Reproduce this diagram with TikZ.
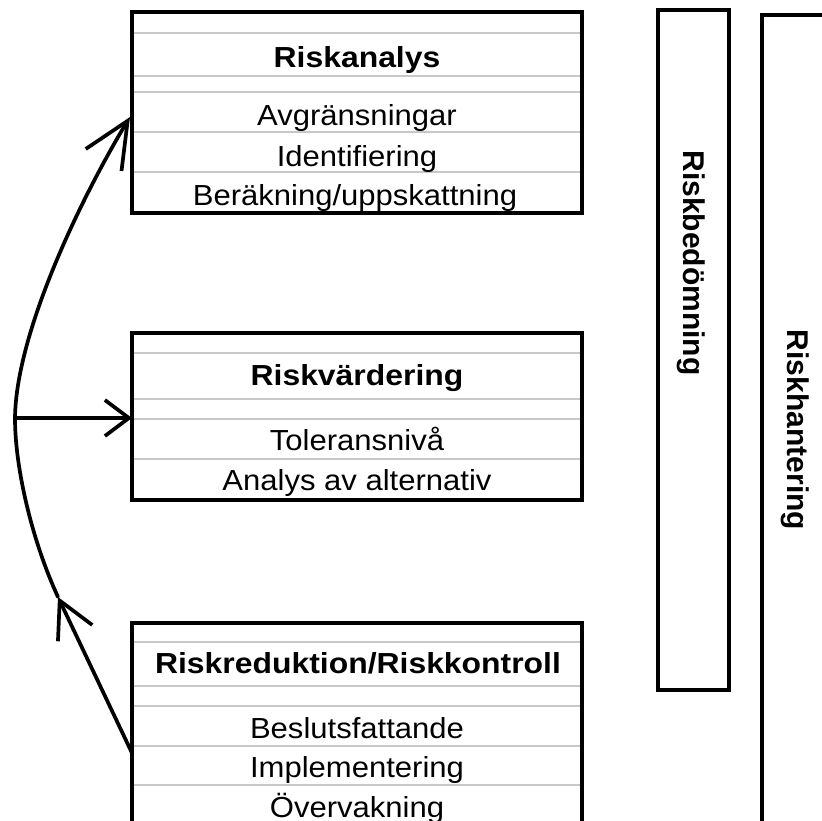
\documentclass[tikz,border=0pt]{standalone}
\usepackage{fontspec}
\setmainfont{Liberation Sans}[FakeStretch=1.07, BoldFeatures={FakeStretch=1.1}]
\newfontfamily\sidefont{Liberation Sans}
\usetikzlibrary{arrows.meta,bending,calc}
\definecolor{rulegray}{RGB}{200,200,200}
\begin{document}
\begin{tikzpicture}[x=1pt,y=-1pt,
  frame/.style={draw=black, line width=4pt, fill=white, inner sep=0pt, outer sep=0pt, anchor=north west},
  rowline/.style={draw=rulegray, line width=1.6pt},
  heading/.style={font=\fontsize{29}{34}\selectfont\bfseries, anchor=base, inner sep=0pt},
  entry/.style={font=\fontsize{29}{34}\selectfont, anchor=base, inner sep=0pt},
  sidelabel/.style={font=\sidefont\bfseries\fontsize{30}{36}\selectfont, rotate=-90, anchor=center, inner sep=0pt},
  flow/.style={line width=3.7pt, line cap=round, line join=round},
]
\useasboundingbox (0,0) rectangle (822,820);
\clip (0,0) rectangle (822,820);

% --- Riskanalys ---
\node[frame, minimum width=450pt, minimum height=201pt] (ana) at (132,12) {};
\foreach \yy in {33,76,92,132,172} \draw[rowline] (134,\yy) -- (580,\yy);
\node[heading] (anaT) at (357,67) {Riskanalys};
\node[entry] (ana1) at (357,125) {Avgränsningar};
\node[entry] (ana2) at (357,166) {Identifiering};
\node[entry] (ana3) at (355,205) {Beräkning/uppskattning};

% --- Riskvärdering ---
\node[frame, minimum width=450pt, minimum height=167pt] (val) at (132,333) {};
\foreach \yy in {353,399,419,459} \draw[rowline] (134,\yy) -- (580,\yy);
\node[heading] (valT) at (357,385) {Riskvärdering};
\node[entry] (val1) at (357,450) {Toleransnivå};
\node[entry] (val2) at (357,490) {Analys av alternativ};

% --- Riskreduktion/Riskkontroll ---
\node[frame, minimum width=450pt, minimum height=202pt] (red) at (132,623) {};
\foreach \yy in {642,686,706,746,785} \draw[rowline] (134,\yy) -- (580,\yy);
\node[heading] (redT) at (358,673) {Riskreduktion/Riskkontroll};
\node[entry] (red1) at (357,738) {Beslutsfattande};
\node[entry] (red2) at (357,777) {Implementering};
\node[entry] (red3) at (357,817) {Övervakning};

% --- side frames ---
\node[frame, minimum width=71pt, minimum height=680pt] (bed) at (658,10) {};
\node[sidelabel] (bedT) at (691,263) {Riskbedömning};
\node[frame, minimum width=100pt, minimum height=850pt] (han) at (762,15) {};
\node[sidelabel] (hanT) at (795,430) {Riskhantering};

% --- feedback loop ---
\coordinate (start) at ($(red.north west)+(0,130)$);
\coordinate (kink) at (58,597);
\coordinate (fork) at (15,418);
\coordinate (goal) at ($(ana.north west)+(-2,105)$);

\draw[flow, -{Straight Barb[length=36pt, width=38pt]}] (start) -- (kink);
\draw[flow, -{Straight Barb[flex, length=46pt, width=42pt]}]
  (kink) .. controls (33,543) and (15,470) .. (fork)
         .. controls (16,330) and (85,190) .. (goal);
\draw[flow, -{Straight Barb[length=24pt, width=36pt]}] (fork) -- (fork -| val.west);
\end{tikzpicture}
\end{document}
